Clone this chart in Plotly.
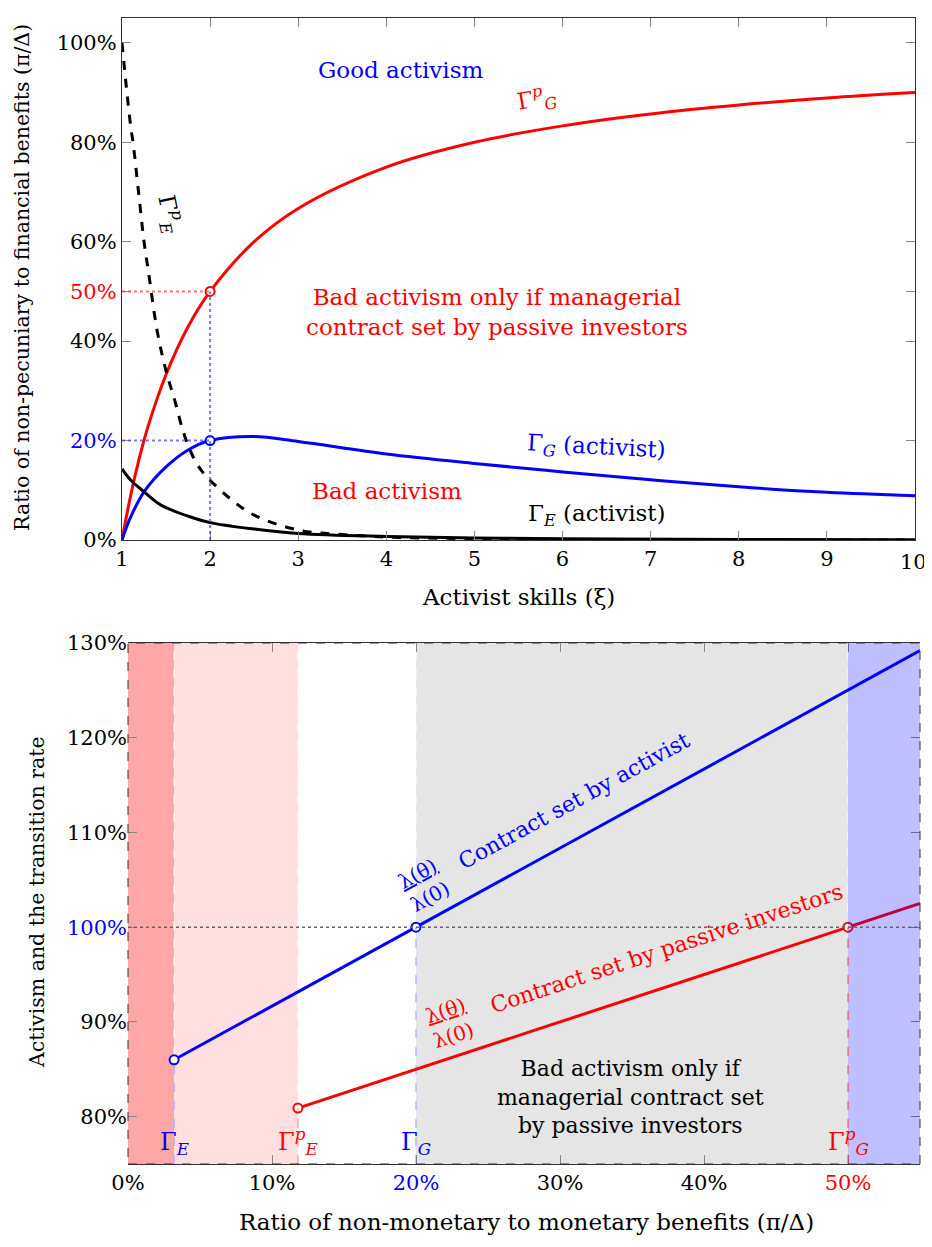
import plotly.graph_objects as go

# The page body has an 8px margin; the figure is placed 8px in from the top-left corner.
OFF = 8
W, H = 932 - OFF, 1247 - 2 * OFF
FONT = "DejaVu Serif"
RED = "#ff0000"
BLUE = "#0000ff"

# ---------------- data: top panel ----------------
xi_gp = [1, 1.1, 1.2, 1.3, 1.5, 1.75, 2, 2.5, 3, 4, 5, 6, 7, 8, 9, 10]
gamma_g_passive = [0, 9.1, 16.7, 23.1, 33.3, 42.9, 50, 60, 66.7, 75, 80, 83.3, 85.7, 87.5, 88.9, 90]

xi_ep = [1, 1.05, 1.1, 1.125, 1.2, 1.25, 1.3, 1.4, 1.5, 1.6, 1.7, 1.8, 1.9, 2, 2.25, 2.5, 3, 3.5, 4, 5, 6, 8, 10]
gamma_e_passive = [100, 91, 83, 80, 68, 60, 54, 42, 34, 28, 21.5, 17, 14, 12, 8, 5, 2, 1.1, 0.6, 0.25, 0.1, 0.02, 0]

xi_g = [1, 1.05, 1.1, 1.25, 1.5, 1.75, 2, 2.5, 3, 4, 5, 6, 7, 8, 9, 10]
gamma_g_activist = [0, 2.5, 4.7, 9.7, 14.7, 18.1, 20, 20.8, 19.8, 17.3, 15.4, 13.7, 12.1, 10.7, 9.6, 8.9]

xi_e = [1, 1.1, 1.25, 1.4, 1.5, 1.75, 2, 2.5, 3, 4, 5, 6, 8, 10]
gamma_e_activist = [14.3, 12, 9.7, 7.5, 6.5, 4.8, 3.5, 2.2, 1.3, 0.7, 0.4, 0.25, 0.1, 0.05]

xi_mark = 2
mark_gp = 50
mark_g = 20

top_xticks = [1, 2, 3, 4, 5, 6, 7, 8, 9, 10]
top_yticks = [0, 20, 40, 50, 60, 80, 100]
top_yticklabels = ["0%", "<span style='color:#0000ff'>20%</span>", "40%",
                   "<span style='color:#ff0000'>50%</span>", "60%", "80%", "100%"]

# ---------------- data: bottom panel ----------------
thr_e = 3.2      # Gamma_E
thr_ep = 11.8    # Gamma_E^p
thr_g = 20       # Gamma_G
thr_gp = 50      # Gamma_G^p
x_max = 55

blue_x = [3.2, 20, 50, 55]
blue_y = [86, 100, 125, 129.2]
red_x = [11.8, 50, 55]
red_y = [80.9, 100, 102.5]

bot_xticks = [0, 10, 20, 30, 40, 50]
bot_xticklabels = ["0%", "10%", "<span style='color:#0000ff'>20%</span>", "30%", "40%",
                   "<span style='color:#ff0000'>50%</span>"]
bot_yticks = [80, 90, 100, 110, 120, 130]
bot_yticklabels = ["80%", "90%", "<span style='color:#0000ff'>100%</span>", "110%", "120%", "130%"]


def px_x(p):
    return (p - OFF) / W


def px_y(p):
    return 1 - (p - OFF) / H


fig = go.Figure()

# top traces
fig.add_trace(go.Scatter(x=xi_gp, y=gamma_g_passive, mode="lines", line=dict(color=RED, width=3, shape="spline"),
                         xaxis="x", yaxis="y", showlegend=False))
fig.add_trace(go.Scatter(x=xi_ep, y=gamma_e_passive, mode="lines",
                         line=dict(color="black", width=3, dash="dash", shape="spline"),
                         xaxis="x", yaxis="y", showlegend=False))
fig.add_trace(go.Scatter(x=xi_g, y=gamma_g_activist, mode="lines", line=dict(color=BLUE, width=3, shape="spline"),
                         xaxis="x", yaxis="y", showlegend=False))
fig.add_trace(go.Scatter(x=xi_e, y=gamma_e_activist, mode="lines", line=dict(color="black", width=3, shape="spline"),
                         xaxis="x", yaxis="y", showlegend=False))
fig.add_trace(go.Scatter(x=[xi_mark], y=[mark_gp], mode="markers",
                         marker=dict(symbol="circle", size=9, color="white", line=dict(color=RED, width=2)),
                         xaxis="x", yaxis="y", showlegend=False))
fig.add_trace(go.Scatter(x=[xi_mark], y=[mark_g], mode="markers",
                         marker=dict(symbol="circle", size=9, color="white", line=dict(color=BLUE, width=2)),
                         xaxis="x", yaxis="y", showlegend=False))

# bottom traces
fig.add_trace(go.Scatter(x=blue_x, y=blue_y, mode="lines", line=dict(color=BLUE, width=3),
                         xaxis="x2", yaxis="y2", showlegend=False))
fig.add_trace(go.Scatter(x=red_x, y=red_y, mode="lines", line=dict(color=RED, width=3),
                         xaxis="x2", yaxis="y2", showlegend=False))
fig.add_trace(go.Scatter(x=[blue_x[0], blue_x[1]], y=[blue_y[0], blue_y[1]], mode="markers",
                         marker=dict(symbol="circle", size=9, color="white", line=dict(color=BLUE, width=2)),
                         xaxis="x2", yaxis="y2", showlegend=False))
fig.add_trace(go.Scatter(x=[red_x[0], red_x[1]], y=[red_y[0], red_y[1]], mode="markers",
                         marker=dict(symbol="circle", size=9, color="white", line=dict(color=RED, width=2)),
                         xaxis="x2", yaxis="y2", showlegend=False))

shapes = []
# top dotted guides
shapes.append(dict(type="line", xref="x", yref="y", x0=1, x1=xi_mark, y0=mark_gp, y1=mark_gp,
                   line=dict(color="rgba(255,60,60,0.7)", width=2, dash="dot")))
shapes.append(dict(type="line", xref="x", yref="y", x0=1, x1=xi_mark, y0=mark_g, y1=mark_g,
                   line=dict(color="rgba(60,60,255,0.7)", width=2, dash="dot")))
shapes.append(dict(type="line", xref="x", yref="y", x0=xi_mark, x1=xi_mark, y0=0, y1=mark_gp,
                   line=dict(color="rgba(60,60,255,0.7)", width=2, dash="dot")))

# bottom regions
shapes.append(dict(type="rect", xref="x2", yref="y2", x0=0, x1=thr_e, y0=75, y1=130,
                   fillcolor="#ffa6a6", line=dict(width=0), layer="below"))
shapes.append(dict(type="rect", xref="x2", yref="y2", x0=thr_e, x1=thr_ep, y0=75, y1=130,
                   fillcolor="#ffdfdf", line=dict(width=0), layer="below"))
shapes.append(dict(type="rect", xref="x2", yref="y2", x0=thr_g, x1=thr_gp, y0=75, y1=130,
                   fillcolor="#e5e5e5", line=dict(width=0), layer="below"))
shapes.append(dict(type="rect", xref="x2", yref="y2", x0=thr_gp, x1=x_max, y0=75, y1=130,
                   fillcolor="rgba(0,0,255,0.25)", line=dict(width=0), layer="above"))
# white dashed region borders
for xv in [thr_e, thr_ep, thr_g, thr_gp]:
    shapes.append(dict(type="line", xref="x2", yref="y2", x0=xv, x1=xv, y0=75, y1=130,
                       line=dict(color="white", width=1, dash="dash"), layer="below"))
# coloured dashed drops
shapes.append(dict(type="line", xref="x2", yref="y2", x0=thr_e, x1=thr_e, y0=75, y1=blue_y[0],
                   line=dict(color="rgba(80,80,255,0.6)", width=1, dash="dash")))
shapes.append(dict(type="line", xref="x2", yref="y2", x0=thr_g, x1=thr_g, y0=75, y1=blue_y[1],
                   line=dict(color="rgba(80,80,255,0.6)", width=1, dash="dash")))
shapes.append(dict(type="line", xref="x2", yref="y2", x0=thr_ep, x1=thr_ep, y0=75, y1=red_y[0],
                   line=dict(color="rgba(255,60,60,0.7)", width=1, dash="dash")))
shapes.append(dict(type="line", xref="x2", yref="y2", x0=thr_gp, x1=thr_gp, y0=75, y1=red_y[1],
                   line=dict(color="rgba(255,60,60,0.7)", width=1.5, dash="dash")))
# 100% dotted line
shapes.append(dict(type="line", xref="x2", yref="y2", x0=0, x1=x_max, y0=100, y1=100,
                   line=dict(color="#666", width=1.5, dash="dot")))
# dashed frame
shapes.append(dict(type="rect", xref="x2 domain", yref="y2 domain", x0=0, x1=1, y0=0, y1=1,
                   line=dict(color="#333", width=1, dash="dash"), layer="above"))

ann = []


def A(text, x, y, xref, yref, color="black", size=23, angle=0, xanchor="center"):
    ann.append(dict(text=text, x=x, y=y, xref=xref, yref=yref, showarrow=False, textangle=angle,
                    xanchor=xanchor, yanchor="middle",
                    font=dict(family=FONT, size=size, color=color)))


# top panel annotations
A("Good activism", 4.16, 94.6, "x", "y", BLUE)
A("Γ<sup><i>p</i></sup><sub><i>G</i></sub>", 5.7, 88.8, "x", "y", RED, angle=-10)
A("Γ<sup><i>p</i></sup><sub><i>E</i></sub>", 1.55, 65.5, "x", "y", "black", angle=78)
A("Bad activism only if managerial<br>contract set by passive investors", 5.26, 45.9, "x", "y", RED)
A("Γ<sub><i>G</i></sub> (activist)", 6.39, 18.6, "x", "y", BLUE, angle=3)
A("Bad activism", 4.01, 9.9, "x", "y", RED)
A("Γ<sub><i>E</i></sub> (activist)", 6.39, 5.0, "x", "y", "black")

# bottom panel annotations
A("<u>λ(θ)</u><br>λ(0)", 20.55, 104.5, "x2", "y2", BLUE, size=20, angle=-28.7)
A("Contract set by activist", 31.0, 113.4, "x2", "y2", BLUE, size=22, angle=-28.7)
A("<u>λ(θ)</u><br>λ(0)", 22.3, 89.9, "x2", "y2", RED, size=20, angle=-18.2)
A("Contract set by passive investors", 37.4, 97.7, "x2", "y2", RED, size=22, angle=-18.2)
A("Bad activism only if<br>managerial contract set<br>by passive investors", 34.9, 82.1, "x2", "y2", "black", size=22)
A("Γ<sub><i>E</i></sub>", thr_e, 77.2, "x2", "y2", BLUE, size=24)
A("Γ<sup><i>p</i></sup><sub><i>E</i></sub>", thr_ep, 77.4, "x2", "y2", RED, size=24)
A("Γ<sub><i>G</i></sub>", thr_g, 77.2, "x2", "y2", BLUE, size=24)
A("Γ<sup><i>p</i></sup><sub><i>G</i></sub>", thr_gp, 77.4, "x2", "y2", RED, size=24)

# axis titles
A("Activist skills (ξ)", px_x(518), px_y(597), "paper", "paper")
A("Ratio of non-pecuniary to financial benefits (π/Δ)", px_x(22), px_y(278), "paper", "paper", size=20.5, angle=-90)
A("Ratio of non-monetary to monetary benefits (π/Δ)", px_x(526), px_y(1222), "paper", "paper")
A("Activism and the transition rate", px_x(37), px_y(902), "paper", "paper", size=20.5, angle=-90)

axis_common = dict(showgrid=False, zeroline=False, ticks="inside", ticklen=9, tickcolor="#888",
                   showline=True, linecolor="#333", linewidth=1.2, automargin=False,
                   tickfont=dict(family=FONT, size=21, color="black"))

# top x-axis: the last tick label is drawn as a right-aligned annotation so it stays inside the window
top_xtick_text = [str(v) for v in top_xticks]
top_xtick_text[-1] = ""
A(str(top_xticks[-1]), px_x(929), px_y(562), "paper", "paper", size=21, xanchor="right")

fig.update_layout(
    width=W, height=H, margin=dict(l=0, r=0, t=0, b=0, autoexpand=False),
    paper_bgcolor="white", plot_bgcolor="white",
    xaxis=dict(domain=[px_x(122), px_x(915)], range=[1, 10], anchor="y", tickvals=top_xticks,
               ticktext=top_xtick_text, mirror="ticks", **axis_common),
    yaxis=dict(domain=[px_y(540), px_y(18)], range=[0, 105], anchor="x", tickvals=top_yticks,
               ticktext=top_yticklabels, mirror="ticks", **axis_common),
    xaxis2=dict(domain=[px_x(128), px_x(920)], range=[0, x_max], anchor="y2", tickvals=bot_xticks,
                ticktext=bot_xticklabels, mirror="ticks", **axis_common),
    yaxis2=dict(domain=[px_y(1164), px_y(643)], range=[75, 130], anchor="x2", tickvals=bot_yticks,
                ticktext=bot_yticklabels, mirror="ticks", **axis_common),
    shapes=shapes, annotations=ann,
)
fig.update_layout(yaxis2=dict(showline=False))

fig.write_html("out.html")
